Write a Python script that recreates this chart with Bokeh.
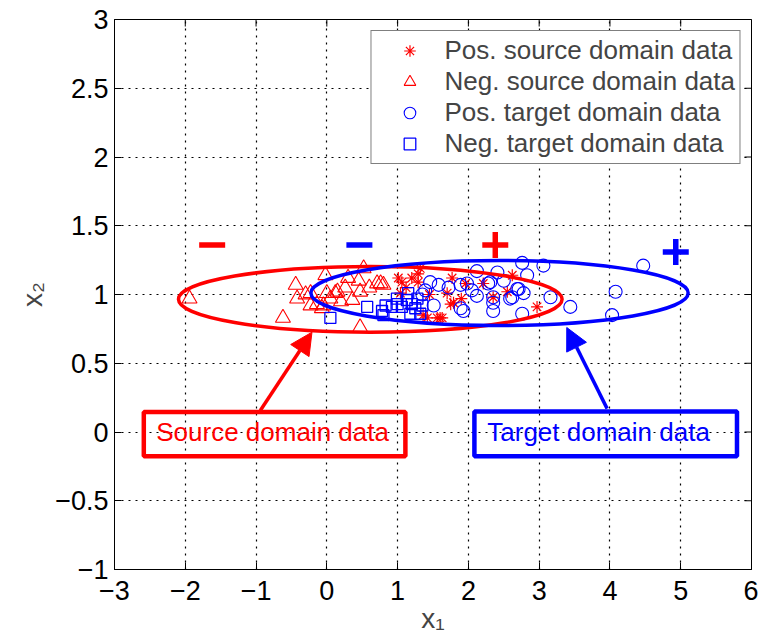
from bokeh.plotting import figure
from bokeh.models import Range1d, FixedTicker, Arrow, NormalHead
from bokeh.core.properties import value
from bokeh.embed import file_html
from bokeh.resources import INLINE

RED = "#ff0000"
BLUE = "#0000ff"
FONT = "Liberation Sans"

# ---- data ----
pos_src_x = [1.06, 1.29, 1.29, 1.32, 1.04, 1.42, 1.56, 1.77, 1.79, 1.70, 1.75, 2.62,
             2.55, 2.21, 2.97, 1.63, 1.01, 1.36, 1.60, 1.96, 2.35, 1.12, 1.45, 1.20, 1.90]
pos_src_y = [1.09, 1.15, 1.09, 1.19, 1.01, 0.83, 0.83, 1.12, 0.94, 1.01, 0.93, 1.14,
             1.02, 1.08, 0.91, 0.83, 1.12, 0.85, 0.83, 1.08, 0.98, 1.05, 1.00, 1.12, 0.97]

neg_src_x = [-1.94, -0.44, -0.42, -0.62, -0.23, -0.14, -0.02, 0.00, -0.05, 0.15, 0.26,
             0.36, 0.45, 0.52, 0.47, 0.71, 0.76, 0.47, 0.12, -0.23, -0.07, -0.30, 0.05,
             0.20, 0.60, 0.30, 0.80]
neg_src_y = [0.97, 1.07, 0.97, 0.83, 1.01, 0.93, 1.14, 1.01, 0.92, 1.02, 1.05,
             0.96, 1.10, 1.19, 1.02, 1.08, 1.08, 0.76, 1.01, 0.92, 0.90, 1.00, 0.97,
             0.95, 1.05, 1.12, 1.07]

pos_tgt_x = [2.76, 3.06, 2.12, 2.41, 2.83, 1.46, 1.98, 2.31, 2.69, 2.78, 2.12, 2.35,
             2.62, 3.16, 3.44, 1.89, 2.35, 2.76, 1.51, 4.47, 4.08, 4.03, 2.28, 2.59,
             2.71, 2.35, 1.58, 1.72, 1.89, 1.93, 1.39, 1.35, 2.05, 2.50]
pos_tgt_y = [1.23, 1.21, 1.17, 1.16, 1.14, 1.09, 1.08, 1.09, 1.04, 1.01, 0.99, 0.98,
             0.98, 0.98, 0.91, 0.90, 0.88, 0.86, 0.92, 1.21, 1.02, 0.85, 1.08, 0.97,
             1.04, 0.94, 1.07, 1.05, 1.07, 0.88, 1.03, 1.00, 1.03, 1.10]

neg_tgt_x = [0.05, 0.57, 0.78, 0.83, 0.92, 0.99, 1.06, 1.15, 1.13, 1.20, 1.25, 1.35,
             1.32, 1.18, 0.80, 1.00, 1.28]
neg_tgt_y = [0.83, 0.91, 0.88, 0.92, 0.91, 0.97, 0.91, 1.01, 0.96, 0.93, 0.90, 0.92,
             0.86, 0.86, 0.85, 0.93, 0.97]

# domain ellipses (source, target)
ell_x = [0.614, 2.44]
ell_y = [0.965, 1.011]
ell_w = [5.42, 5.33]
ell_h = [0.478, 0.472]
ell_color = [RED, BLUE]

# class signs above the ellipses
sign_x = [-1.62, 0.46, 2.38, 4.93]
sign_y = [1.36, 1.36, 1.36, 1.31]
sign_marker = ["dash", "dash", "cross", "cross"]
sign_color = [RED, BLUE, RED, BLUE]

# annotation boxes
box_left = [-2.586, 2.085]
box_right = [1.110, 5.795]
box_top = [0.145, 0.150]
box_bottom = [-0.176, -0.176]
box_color = [RED, BLUE]
box_text = ["Source domain data", "Target domain data"]
box_text_x = [-2.41, 2.267]
box_text_y = [0.0, 0.0]

# arrows (start at box, end at ellipse)
arr_x0 = [-0.94, 3.96]
arr_y0 = [0.156, 0.17]
arr_x1 = [-0.21, 3.39]
arr_y1 = [0.726, 0.76]

x_min, x_max = -3, 6
y_min, y_max = -1, 3
x_ticks = [-3, -2, -1, 0, 1, 2, 3, 4, 5, 6]
x_tick_labels = ["\u22123", "\u22122", "\u22121", "0", "1", "2", "3", "4", "5", "6"]
y_ticks = [-1, -0.5, 0, 0.5, 1, 1.5, 2, 2.5, 3]
y_tick_labels = ["\u22121", "\u22120.5", "0", "0.5", "1", "1.5", "2", "2.5", "3"]

# ---- figure ----
p = figure(frame_width=637, frame_height=550, x_range=Range1d(x_min, x_max),
           y_range=Range1d(y_min, y_max), output_backend="svg", toolbar_location=None,
           min_border_left=114, min_border_right=7, min_border_top=19, min_border_bottom=68)
p.background_fill_color = "white"
p.border_fill_color = "white"
p.outline_line_color = "black"
p.outline_line_width = 1

for ax, ticks, labels in ((p.xaxis[0], x_ticks, x_tick_labels), (p.yaxis[0], y_ticks, y_tick_labels)):
    ax.ticker = FixedTicker(ticks=ticks)
    ax.major_label_overrides = {t: l for t, l in zip(ticks, labels)}
    ax.major_label_text_font = FONT
    ax.major_label_text_font_size = "27px"
    ax.major_label_text_color = "black"
    ax.major_tick_in = 7
    ax.major_tick_out = 0
    ax.minor_tick_line_color = None
    ax.axis_line_color = "black"
    ax.major_tick_line_color = "black"
    ax.axis_label_text_font = FONT
    ax.axis_label_text_font_size = "28px"
    ax.axis_label_text_font_style = "normal"

p.xaxis.major_label_standoff = 11
p.yaxis.major_label_standoff = 6
p.xaxis.axis_label = "x\u2081"
p.yaxis.axis_label = "x\u2082"
p.xaxis.axis_label_standoff = 0
p.yaxis.axis_label_standoff = 4

for g, ticks in ((p.xgrid[0], x_ticks), (p.ygrid[0], y_ticks)):
    g.ticker = FixedTicker(ticks=ticks)
    g.grid_line_color = "black"
    g.grid_line_dash = "2 5"
    g.grid_line_width = 1.2

# tick marks on the top and right edges of the box (half of each dash is clipped)
p.scatter(x_ticks, [y_max] * len(x_ticks), marker="dash", angle=1.5708, size=14,
          line_color="black", line_width=1)
p.scatter([x_max] * len(y_ticks), y_ticks, marker="dash", size=14,
          line_color="black", line_width=1)

# points
p.scatter(pos_src_x, pos_src_y, marker="asterisk", size=12, line_color=RED, line_width=1.2,
          legend_label="Pos. source domain data")
p.scatter(neg_src_x, neg_src_y, marker="triangle", size=15, line_color=RED, fill_alpha=0,
          line_width=1.1, legend_label="Neg. source domain data")
p.scatter(pos_tgt_x, pos_tgt_y, marker="circle", size=13, line_color=BLUE, fill_alpha=0,
          line_width=1.1, legend_label="Pos. target domain data")
p.scatter(neg_tgt_x, neg_tgt_y, marker="square", size=11, line_color=BLUE, fill_alpha=0,
          line_width=1.3, legend_label="Neg. target domain data")

# ellipses
p.ellipse(x=ell_x, y=ell_y, width=ell_w, height=ell_h, fill_alpha=0,
          line_color=ell_color, line_width=3.5)

# signs
p.scatter(sign_x, sign_y, marker=sign_marker, size=26, line_color=sign_color, line_width=5.5)

# boxes and texts
p.quad(left=box_left, right=box_right, top=box_top, bottom=box_bottom, fill_color="white",
       fill_alpha=0, line_color=box_color, line_width=4.5)
p.text(x=box_text_x, y=box_text_y, text=box_text, text_color=box_color,
       text_font=value(FONT), text_font_size="26px", text_align="left", text_baseline="middle")

for i in range(len(arr_x0)):
    p.add_layout(Arrow(end=NormalHead(size=22, fill_color=box_color[i], line_color=box_color[i]),
                       x_start=arr_x0[i], y_start=arr_y0[i], x_end=arr_x1[i], y_end=arr_y1[i],
                       line_color=box_color[i], line_width=3.5))

leg = p.legend[0]
leg.location = "top_right"
leg.margin = 11
leg.padding = 4
leg.spacing = 0
leg.glyph_width = 68
leg.glyph_height = 29
leg.label_height = 29
leg.label_standoff = 1
leg.label_text_font = FONT
leg.label_text_font_size = "26px"
leg.label_text_line_height = 1.0
leg.border_line_color = "black"
leg.border_line_width = 1.5
leg.background_fill_alpha = 1

open("out.html", "w").write(file_html(p, INLINE))
